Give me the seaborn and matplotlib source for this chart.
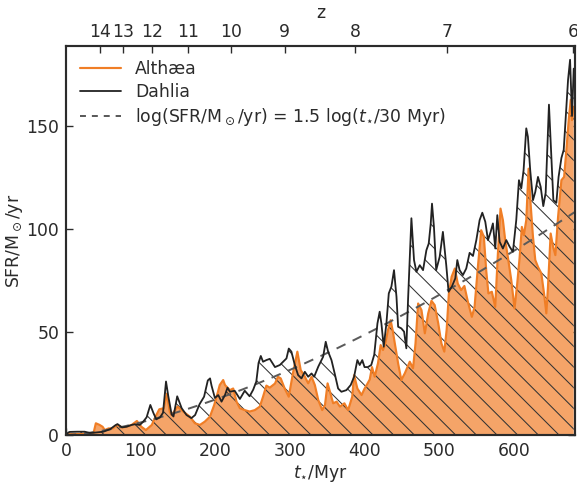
import numpy as np
import pandas as pd
import matplotlib
matplotlib.use("Agg")
import matplotlib.pyplot as plt
import seaborn as sns
from matplotlib.lines import Line2D

# ---------------- data ----------------
t_althaea = [0, 10, 20, 28, 37, 40, 45, 49, 52, 57, 63, 68, 75, 81, 88, 95, 101, 107, 115, 120,
             125, 131, 135, 139, 141.5, 149.5, 157, 166, 172.7, 179.4, 186, 192.8, 198.6, 203, 206,
             210.6, 213, 215, 219.6, 224, 228.5, 233, 239.5, 246, 253, 259.7, 264, 268.5, 273, 280,
             284, 287.7, 293, 298.5, 304, 310, 314.5, 319, 324.5, 329, 333.4, 338, 343.3, 347, 350.5,
             353.7, 358, 362.6, 367, 373, 378, 383.5, 386, 390.4, 396, 400, 404, 407, 410, 413.6,
             418, 421.6, 424.7, 427.8, 431.4, 435, 438, 441.3, 445, 449.3, 454, 460.6, 465, 468.3,
             471.8, 476.3, 480.8, 485.3, 489.7, 494, 498.8, 503, 506.9, 510, 513, 516.7, 521, 524.9,
             529.4, 533.8, 538.3, 543.8, 547.4, 551.9, 556.3, 559.9, 563, 566, 570.6, 575.1, 578.7,
             582.2, 585.4, 588.5, 592, 596.6, 601, 604.6, 607.7, 610.8, 613.5, 616.7, 619.8, 622.5,
             625.7, 628.8, 632.4, 636.9, 640.5, 643.6, 645.8, 649.4, 652.6, 655.7, 659.3, 663.8,
             667.4, 670.5, 673.6, 676.3, 678, 680.3]
sfr_althaea = [0.3, 0.5, 0.5, 0.8, 1.1, 5.7, 4.9, 4.0, 2.4, 3.2, 3.2, 4.9, 3.7, 4.0, 4.9, 6.8, 4.0, 2.4, 4.9, 9,
               12.5, 13, 20, 11.3, 9.7, 13.8, 11.4, 8.9, 5.7, 4.9, 6.5, 8.9, 14.6, 20.2, 24.3,
               26.7, 24.3, 23.5, 21.8, 22.6, 16.2, 13, 12.1, 11.4, 12.1, 13.8, 18.6, 24, 23, 25,
               28.3, 27.5, 22.6, 18.6, 29.9, 40.5, 31.5, 29.1, 25.1, 28.3, 24.3, 17, 12.1, 14.6, 25.1,
               21, 15.4, 16.2, 13.8, 15.4, 12.1, 18.6, 29.1, 22.6, 19.4, 22.5, 25, 27, 33, 28.3,
               34.8, 43.7, 41.3, 44.5, 51, 55.8, 50.2, 42.9, 34.8, 26.7, 30, 35.6, 32.4, 44.5,
               63.9, 60.7, 49.4, 59.1, 65.2, 63.1, 54.2, 44.5, 40.5, 51, 68.8, 76.9, 80.9, 73.6,
               70.4, 72.4, 65, 57.4, 62.2, 81.7, 99.5, 96.3, 80.1, 68.8, 69.6, 62.2, 88.2,
               110, 104.4, 94.7, 86.6, 75.3, 61.5, 73.6, 85.8, 101.1, 97.1, 104.4, 129.4, 112.4,
               96.3, 85, 81.7, 78.5, 68.8, 59.1, 72, 97.9, 91.5, 87.4, 105.9, 123.8,
               125.4, 138.6, 153.2, 162.9, 153, 159.5]

t_dahlia = [0, 3, 5, 15, 25, 32, 37, 45, 50, 59, 66, 69, 75, 81, 88, 92, 99, 103.5, 108, 113, 117,
            121, 126, 130, 134, 137, 141.5, 144, 149, 155, 161.5, 168, 173, 179, 185, 190, 193, 195,
            199.5, 204, 208.4, 213, 216.4, 219.6, 226, 233, 239.5, 246, 250.8, 255, 258, 261, 264,
            268.5, 273, 280, 286.5, 291, 295.4, 298.5, 302, 306.6, 311, 315.5, 320, 324.5, 329,
            332.5, 338, 344.5, 348, 351.2, 355.7, 360, 364.6, 369, 375.7, 381.5, 386, 390.4, 393.5,
            397, 400, 404.5, 409, 413, 417.3, 420.3, 422.6, 425.7, 429.3, 432.5, 436, 439.5, 442.8,
            445, 449.3, 453, 456, 458.3, 462.8, 466.3, 469.5, 474, 478.4, 482.9, 486, 488.7, 490.4,
            493, 496, 500.7, 505, 509.5, 512.6, 517, 521.6, 524.3, 527.4, 531.8, 536.3, 540.8,
            545.3, 549.8, 554.2, 557.8, 561.8, 565.4, 569, 572, 575.2, 577.9, 581, 585.4, 589.9,
            594.4, 598.8, 603.3, 606.9, 610, 613.1, 616.7, 618.9, 622, 625.7, 628.8, 632.4, 636,
            639.5, 642.7, 647.1, 650.3, 653, 657, 660, 663.8, 666.9, 669.6, 672.7, 675.4, 678, 680.3]
sfr_dahlia = [0, 1.2, 1.5, 1.6, 1.6, 1.0, 1.1, 1.4, 1.6, 2.8, 4.7, 5.3, 3.7, 4.0, 4.9, 5.2, 4.9, 6.5, 8.6, 14.6, 10.8,
              7.6, 8.6, 10.8, 26, 19, 10, 9, 18.8, 13, 9.7, 8.2, 9.7, 15, 18.6, 26.5, 27.5, 24,
              18, 19.4, 16.2, 19.4, 23, 21, 21.5, 17.5, 21.5, 18.8, 22, 26, 35, 38.4, 35.6,
              36.4, 37, 33, 34, 35.6, 37.2, 42, 40.5, 34, 29.1, 27.5, 30.7, 28.3, 29.9,
              28.3, 33.2, 38, 45.3, 40.5, 36.4, 29.9, 22.6, 21, 21.8, 24.3, 28.3, 36.4, 34,
              36.4, 33, 33, 34, 39, 54.2, 59.9, 54.2, 42.9, 54.2, 68.8, 72.1, 80.1, 67.2,
              52.6, 51.8, 50.2, 42.1, 65.6, 105.3, 85, 79.3, 82.5, 80.1, 89.8, 93, 102.7, 112.4,
              101.1, 80.1, 86.6, 98.7, 82.5, 69.6, 72.1, 76.1, 85, 80.1, 77.7, 80.9, 88.5,
              87, 94.7, 104.4, 108, 103.6, 94.7, 98.7, 102.8, 90.6, 106.8, 93.9, 90.6, 94.7,
              91.5, 89, 104.4, 123.8, 119.8, 128.6, 149, 144.9, 128.6, 114.1, 118.1, 125.4, 120.6,
              111.2, 117.7, 160.5, 135.4, 114.1, 112.8, 125.4, 134.6, 138.6, 154.8, 172.6, 182.3, 155, 178]

x_ticks = [0, 100, 200, 300, 400, 500, 600]
y_ticks = [0, 50, 100, 150]
z_labels = ["14", "13", "12", "11", "10", "9", "8", "7", "6"]
z_tick_t = [45.5, 77, 115, 163, 221, 293, 387, 510, 679]
fit_slope = 1.5      # log(SFR) = 1.5 log(t/30 Myr)
fit_norm = 30.0

series_labels = ["Althæa", "Dahlia",
                 r"log(SFR/M$_\odot$/yr) = 1.5 log($t_{\star}$/30 Myr)"]

# ---------------- style ----------------
sns.set_theme(style="ticks")
plt.rcParams["font.family"] = ["DejaVu Sans"]
plt.rcParams["mathtext.fontset"] = "dejavusans"
plt.rcParams["hatch.linewidth"] = 0.6
TXT = "#2b2b2b"
plt.rcParams["text.color"] = TXT
plt.rcParams["axes.labelcolor"] = TXT
plt.rcParams["xtick.color"] = TXT
plt.rcParams["ytick.color"] = TXT
plt.rcParams["axes.edgecolor"] = "#2b2b2b"

ORANGE_LINE = "#f07e26"
ORANGE_FILL = "#f5a468"
DARK = "#222222"
GREY = "#5a5a5a"
FS = 10

DPI = 124
fig = plt.figure(figsize=(577 / DPI, 485 / DPI), dpi=DPI)
ax = fig.add_axes([66 / 577, 1 - 435 / 485, (575 - 66) / 577, (435 - 46) / 485])

df_a = pd.DataFrame({"t": t_althaea, "sfr": sfr_althaea})
df_d = pd.DataFrame({"t": t_dahlia, "sfr": sfr_dahlia})

# filled Althaea
ax.fill_between(df_a["t"], 0, df_a["sfr"], facecolor=ORANGE_FILL, edgecolor="none",
                linewidth=0, zorder=1)
# hatched region under Dahlia
ax.fill_between(df_d["t"], 0, df_d["sfr"], facecolor="none", edgecolor="#333333",
                hatch="\\\\", linewidth=0, zorder=2)

sns.lineplot(data=df_a, x="t", y="sfr", ax=ax, color=ORANGE_LINE, lw=1.25, zorder=3,
             estimator=None, sort=False)

t_fit = np.linspace(0.5, 682, 300)
ax.plot(t_fit, (t_fit / fit_norm) ** fit_slope, ls=(0, (5, 4)), color=GREY, lw=1.15, zorder=4)

sns.lineplot(data=df_d, x="t", y="sfr", ax=ax, color=DARK, lw=1.05, zorder=5,
             estimator=None, sort=False)

ax.set_xlim(0, 682)
ax.set_ylim(0, 189)
ax.set_xticks(x_ticks)
ax.set_yticks(y_ticks)
ax.set_xlabel(r"$t_{\star}$/Myr", fontsize=FS, labelpad=2)
ax.set_ylabel(r"SFR/M$_\odot$/yr", fontsize=FS)
ax.yaxis.set_label_coords(-0.08, 0.5)
ax.tick_params(direction="in", length=4, width=0.8, labelsize=FS, right=True, top=False, pad=4)
for s in ax.spines.values():
    s.set_linewidth(1.0)
    s.set_visible(True)

ax2 = ax.twiny()
ax2.set_xlim(ax.get_xlim())
ax2.set_xticks(z_tick_t)
ax2.set_xticklabels(z_labels)
ax2.set_xlabel("z", fontsize=FS, labelpad=3)
ax2.tick_params(direction="in", length=4, width=0.8, labelsize=FS, pad=3)

handles = [Line2D([], [], color=ORANGE_LINE, lw=1.25),
           Line2D([], [], color=DARK, lw=1.05),
           Line2D([], [], color=GREY, lw=1.15, ls=(0, (3, 3)))]
ax.legend(handles, series_labels, loc="upper left", frameon=False, fontsize=FS,
          handlelength=2.4, handletextpad=0.8, labelspacing=0.3,
          bbox_to_anchor=(0.0, 1.0), borderaxespad=0.4)

fig.savefig("out.png", dpi=DPI)
